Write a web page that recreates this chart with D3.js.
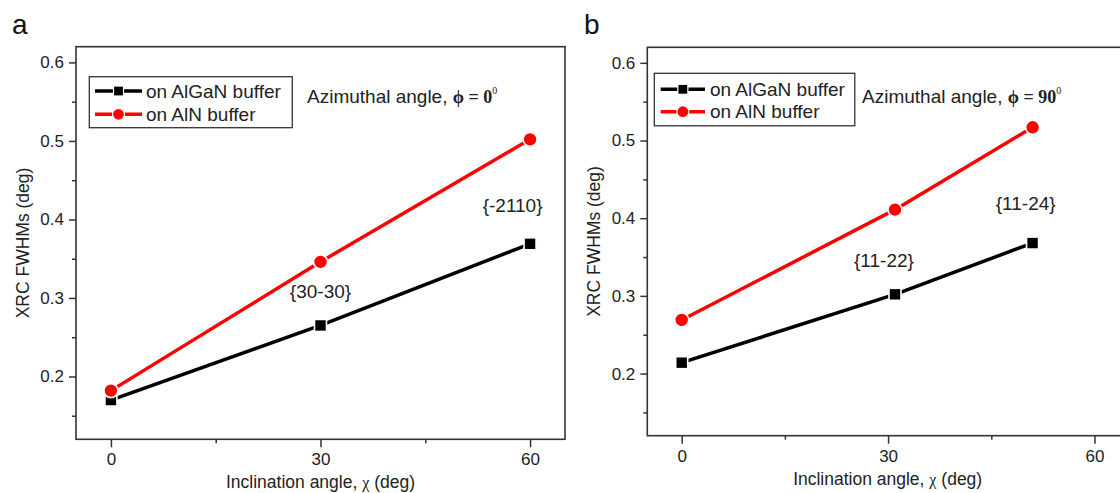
<!DOCTYPE html>
<html><head><meta charset="utf-8">
<script src="https://cdn.jsdelivr.net/npm/d3@7"></script>
<style>
html,body{margin:0;padding:0;background:#fff;}
svg{display:block;font-family:"Liberation Sans",Arial,sans-serif;}
</style></head>
<body>
<svg id="chart" width="1120" height="493"></svg>
<script>
// ---- data ----
const seriesNames = ["on AlGaN buffer", "on AlN buffer"];
const xMajorTicks = [0, 30, 60];
const xMinorTicks = [15, 45];
const yMajorTicks = [0.2, 0.3, 0.4, 0.5, 0.6];
const yMinorTicks = [0.15, 0.25, 0.35, 0.45, 0.55];

const panelA_x = [0, 30, 60];
const panelA_AlGaN = [0.170, 0.265, 0.369];
const panelA_AlN = [0.182, 0.346, 0.502];
const panelA_labels = ["{30-30}", "{-2110}"];
const panelA_phi = "0";

const panelB_x = [0, 31, 51];
const panelB_AlGaN = [0.214, 0.302, 0.368];
const panelB_AlN = [0.269, 0.411, 0.517];
const panelB_labels = ["{11-22}", "{11-24}"];
const panelB_phi = "90";

const svg = d3.select("#chart");
const TXT = "#222";

function drawPanel(cfg) {
  const g = svg.append("g");
  const x = d3.scaleLinear().domain([-5, 65]).range([cfg.left, cfg.right]);
  const y = d3.scaleLinear().domain([0.12, 0.62]).range([cfg.bottom, cfg.top]);

  // panel letter
  g.append("text").attr("x", cfg.letterX).attr("y", 34)
    .attr("font-size", 28).attr("fill", "#111").text(cfg.letter);

  // y axis
  const ya = g.append("g").attr("transform", `translate(${cfg.left},0)`)
    .call(d3.axisLeft(y).tickValues(yMajorTicks).tickSize(7).tickPadding(5)
      .tickFormat(d3.format(".1f")));
  ya.select(".domain").remove();
  ya.selectAll("text").attr("font-size", 17).attr("fill", TXT)
    .attr("font-family", "Liberation Sans, Arial, sans-serif");
  ya.selectAll("line").attr("stroke", "#333").attr("stroke-width", 1.5);
  const yam = g.append("g").attr("transform", `translate(${cfg.left},0)`)
    .call(d3.axisLeft(y).tickValues(yMinorTicks).tickSize(4).tickFormat(""));
  yam.select(".domain").remove();
  yam.selectAll("line").attr("stroke", "#333").attr("stroke-width", 1.5);

  // x axis
  const xa = g.append("g").attr("transform", `translate(0,${cfg.bottom})`)
    .call(d3.axisBottom(x).tickValues(xMajorTicks).tickSize(8).tickPadding(6));
  xa.select(".domain").remove();
  xa.selectAll("text").attr("font-size", 17).attr("fill", TXT)
    .attr("font-family", "Liberation Sans, Arial, sans-serif");
  xa.selectAll("line").attr("stroke", "#333").attr("stroke-width", 1.5);
  const xam = g.append("g").attr("transform", `translate(0,${cfg.bottom})`)
    .call(d3.axisBottom(x).tickValues(xMinorTicks).tickSize(4).tickFormat(""));
  xam.select(".domain").remove();
  xam.selectAll("line").attr("stroke", "#333").attr("stroke-width", 1.5);

  // frame
  g.append("rect").attr("x", cfg.left).attr("y", cfg.top)
    .attr("width", cfg.right - cfg.left).attr("height", cfg.bottom - cfg.top)
    .attr("fill", "none").attr("stroke", "#333").attr("stroke-width", 1.6);

  // axis titles
  g.append("text")
    .attr("transform", `translate(${cfg.yTitleX},${(cfg.top + cfg.bottom) / 2}) rotate(-90)`)
    .attr("text-anchor", "middle").attr("font-size", 17.5).attr("fill", TXT)
    .text("XRC FWHMs (deg)");
  const xt = g.append("text").attr("x", (cfg.left + Math.min(cfg.right, 1128)) / 2)
    .attr("y", cfg.xTitleY).attr("text-anchor", "middle")
    .attr("font-size", 17.5).attr("fill", TXT);
  xt.append("tspan").text("Inclination angle, ");
  xt.append("tspan").attr("font-family", "Liberation Serif, Times New Roman, serif")
    .attr("font-size", 16).text("χ");
  xt.append("tspan").text(" (deg)");

  // data
  const series = [
    { name: seriesNames[0], xs: cfg.xs, ys: cfg.algan, color: "#000", shape: "square" },
    { name: seriesNames[1], xs: cfg.xs, ys: cfg.aln, color: "#f00", shape: "circle" }
  ];
  const line = d3.line().x(d => x(d[0])).y(d => y(d[1]));
  series.forEach(s => {
    const pts = s.xs.map((v, i) => [v, s.ys[i]]);
    g.append("path").datum(pts).attr("d", line).attr("fill", "none")
      .attr("stroke", s.color).attr("stroke-width", 3.5).attr("stroke-linejoin", "round");
    if (s.shape === "square") {
      g.selectAll(null).data(pts).enter().append("rect")
        .attr("x", d => x(d[0]) - 6).attr("y", d => y(d[1]) - 6)
        .attr("width", 12).attr("height", 12)
        .attr("fill", s.color).attr("stroke", "#fff").attr("stroke-width", 1.6);
    } else {
      g.selectAll(null).data(pts).enter().append("circle")
        .attr("cx", d => x(d[0])).attr("cy", d => y(d[1])).attr("r", 7)
        .attr("fill", s.color).attr("stroke", "#fff").attr("stroke-width", 1.6);
    }
  });

  // point labels
  cfg.labels.forEach((lb, i) => {
    g.append("text").attr("x", x(cfg.labelPos[i][0])).attr("y", y(cfg.labelPos[i][1]))
      .attr("text-anchor", "middle").attr("font-size", 19).attr("fill", TXT).text(lb);
  });

  // legend
  const L = cfg.legend;
  g.append("rect").attr("x", L.x).attr("y", L.y).attr("width", L.w).attr("height", L.h)
    .attr("fill", "#fff").attr("stroke", "#333").attr("stroke-width", 1.3);
  series.forEach((s, i) => {
    const ry = L.rows[i];
    g.append("line").attr("x1", L.lx1).attr("x2", L.lx2).attr("y1", ry).attr("y2", ry)
      .attr("stroke", s.color).attr("stroke-width", 3.5);
    const mx = (L.lx1 + L.lx2) / 2;
    if (s.shape === "square") {
      g.append("rect").attr("x", mx - 5).attr("y", ry - 5).attr("width", 10).attr("height", 10)
        .attr("fill", s.color).attr("stroke", "#fff").attr("stroke-width", 1.2);
    } else {
      g.append("circle").attr("cx", mx).attr("cy", ry).attr("r", 6)
        .attr("fill", s.color).attr("stroke", "#fff").attr("stroke-width", 1.2);
    }
    g.append("text").attr("x", L.tx).attr("y", ry + 6.5).attr("font-size", 19)
      .attr("fill", TXT).text(s.name);
  });

  // azimuthal annotation
  const az = g.append("text").attr("x", cfg.azX).attr("y", cfg.azY)
    .attr("font-size", 19).attr("fill", TXT);
  az.append("tspan").text("Azimuthal angle, ");
  az.append("tspan").attr("font-family", "Liberation Serif, Times New Roman, serif")
    .attr("font-size", 18).attr("font-weight", "bold").text("ϕ = " + cfg.phi);
  az.append("tspan").attr("font-family", "Liberation Serif, Times New Roman, serif")
    .attr("font-size", 10).attr("dy", -9).text("0");
}

drawPanel({
  letter: "a", letterX: 12,
  left: 76, right: 565, top: 46.7, bottom: 439.3,
  xs: panelA_x, algan: panelA_AlGaN, aln: panelA_AlN,
  labels: panelA_labels, labelPos: [[30, 0.30], [57.5, 0.41]],
  phi: panelA_phi, azX: 307, azY: 103,
  yTitleX: 29, xTitleY: 488,
  legend: { x: 89.3, y: 76.7, w: 203, h: 51, rows: [91, 114.3], lx1: 95, lx2: 142, tx: 146 }
});

drawPanel({
  letter: "b", letterX: 584,
  left: 647.3, right: 1128.9, top: 47.3, bottom: 435.7,
  xs: panelB_x, algan: panelB_AlGaN, aln: panelB_AlN,
  labels: panelB_labels, labelPos: [[29.4, 0.337], [50, 0.41]],
  phi: panelB_phi, azX: 862, azY: 103,
  yTitleX: 600, xTitleY: 485,
  legend: { x: 654.3, y: 73.3, w: 200.5, h: 52.5, rows: [89.3, 111.7], lx1: 660.7, lx2: 705, tx: 710 }
});
</script>
</body></html>
